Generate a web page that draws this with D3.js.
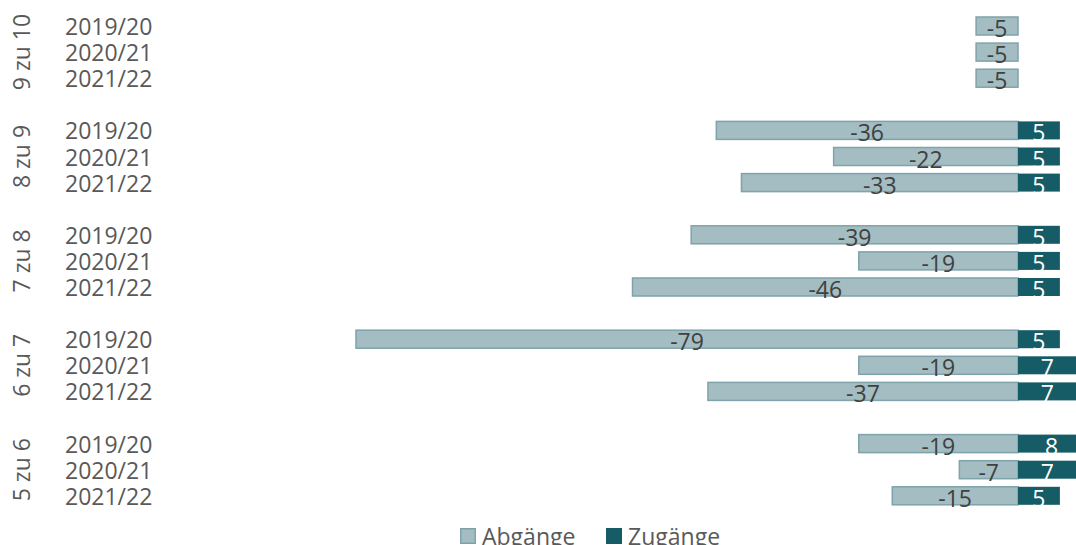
<!DOCTYPE html>
<html>
<head>
<meta charset="utf-8">
<script src="https://cdn.jsdelivr.net/npm/d3@7"></script>
<style>
  html, body { margin: 0; padding: 0; background: #fff; overflow: hidden; }
  svg { display: block; font-family: "Open Sans", sans-serif; }
</style>
</head>
<body>
<svg id="chart" width="1076" height="545"></svg>
<script>
// Klassenübergänge: Abgänge (negativ) und Zugänge je Schuljahr
const groups = ["9 zu 10", "8 zu 9", "7 zu 8", "6 zu 7", "5 zu 6"];
const years = ["2019/20", "2020/21", "2021/22"];
const abgaenge = [
  [-5, -5, -5],
  [-36, -22, -33],
  [-39, -19, -46],
  [-79, -19, -37],
  [-19, -7, -15]
];
const zugaenge = [
  [null, null, null],
  [5, 5, 5],
  [5, 5, 5],
  [5, 7, 7],
  [8, 7, 5]
];
const seriesNames = ["Abgänge", "Zugänge"];

const colAbg = "#a3bdc2", colAbgStroke = "#7fa3aa", colZug = "#165c66";
const textDark = "#404040", textAxis = "#595959";

const svg = d3.select("#chart");

// row keys, with an empty spacer row between groups
const rowKeys = [];
const rows = [];
groups.forEach((g, gi) => {
  years.forEach((y, yi) => {
    const key = g + "|" + y;
    rowKeys.push(key);
    rows.push({ group: g, year: y, key, abg: abgaenge[gi][yi], zug: zugaenge[gi][yi] });
  });
  if (gi < groups.length - 1) rowKeys.push("gap" + gi);
});

const y = d3.scaleBand()
  .domain(rowKeys)
  .range([12.95, 12.95 + rowKeys.length * 26.1])
  .paddingInner(0.31)
  .paddingOuter(0.155);

const x = d3.scaleLinear()
  .domain([-90, 10])
  .range([1018 - 90 * 8.38, 1018 + 10 * 8.38]);

const bh = y.bandwidth();

// Abgänge bars
svg.append("g").selectAll("rect")
  .data(rows.filter(d => d.abg != null))
  .join("rect")
  .attr("x", d => x(d.abg))
  .attr("y", d => y(d.key))
  .attr("width", d => x(0) - x(d.abg))
  .attr("height", bh)
  .attr("fill", colAbg)
  .attr("stroke", colAbgStroke)
  .attr("stroke-width", 1.5);

// Zugänge bars
svg.append("g").selectAll("rect")
  .data(rows.filter(d => d.zug != null))
  .join("rect")
  .attr("x", x(0))
  .attr("y", d => y(d.key))
  .attr("width", d => x(d.zug) - x(0))
  .attr("height", bh)
  .attr("fill", colZug);

// value labels
svg.append("g").selectAll("text")
  .data(rows.filter(d => d.abg != null))
  .join("text")
  .attr("x", d => (x(d.abg) + x(0)) / 2)
  .attr("y", d => y(d.key) + bh / 2 + 2)
  .attr("text-anchor", "middle")
  .attr("dominant-baseline", "central")
  .attr("font-size", 23)
  .attr("fill", textDark)
  .text(d => d.abg);

svg.append("g").selectAll("text")
  .data(rows.filter(d => d.zug != null))
  .join("text")
  .attr("x", d => (x(d.zug) + x(0)) / 2)
  .attr("y", d => y(d.key) + bh / 2 + 2)
  .attr("text-anchor", "middle")
  .attr("dominant-baseline", "central")
  .attr("font-size", 23)
  .attr("fill", "#ffffff")
  .text(d => d.zug);

// year labels
svg.append("g").selectAll("text")
  .data(rows)
  .join("text")
  .attr("x", 65)
  .attr("y", d => y(d.key) + bh / 2)
  .attr("dominant-baseline", "central")
  .attr("font-size", 23)
  .attr("fill", textAxis)
  .text(d => d.year);

// group labels, rotated
svg.append("g").selectAll("text")
  .data(groups)
  .join("text")
  .attr("transform", g => `translate(21,${y(g + "|" + years[1]) + bh / 2}) rotate(-90)`)
  .attr("text-anchor", "middle")
  .attr("dominant-baseline", "central")
  .attr("font-size", 23)
  .attr("fill", textAxis)
  .text(g => g);

// legend
const legend = svg.append("g");
const legendItems = [
  { name: seriesNames[0], x: 460, fill: colAbg, stroke: colAbgStroke },
  { name: seriesNames[1], x: 606, fill: colZug, stroke: colZug }
];
const li = legend.selectAll("g").data(legendItems).join("g")
  .attr("transform", d => `translate(${d.x},0)`);
li.append("rect")
  .attr("x", 0.75).attr("y", 528.75)
  .attr("width", 14.5).attr("height", 14.5)
  .attr("fill", d => d.fill)
  .attr("stroke", d => d.stroke)
  .attr("stroke-width", 1.5);
li.append("text")
  .attr("x", 22)
  .attr("y", 545)
  .attr("font-size", 23)
  .attr("fill", textAxis)
  .text(d => d.name);
</script>
</body>
</html>
